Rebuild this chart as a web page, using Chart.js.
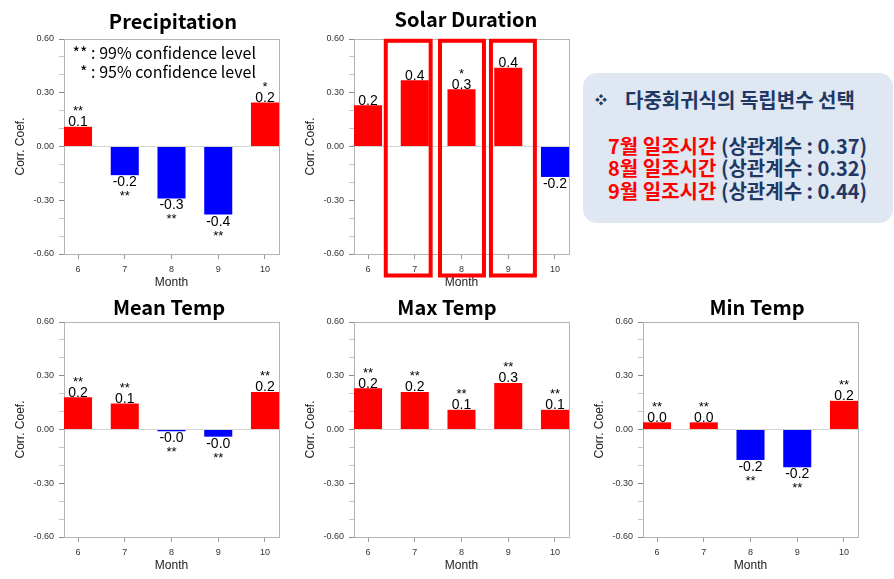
<!DOCTYPE html>
<html><head><meta charset="utf-8">
<script src="https://cdn.jsdelivr.net/npm/chart.js@4/dist/chart.umd.min.js"></script>
<style>
html,body{margin:0;padding:0;background:#fff;}
body{width:894px;height:579px;overflow:hidden;position:relative;font-family:"Liberation Sans",Arial,sans-serif;}
canvas{position:absolute;}
.ttl{position:absolute;font-family:"Noto Sans CJK KR",sans-serif;font-weight:bold;font-size:20px;line-height:20px;color:#000;transform:translateX(-50%);white-space:nowrap;}
.leg{position:absolute;font-family:"Noto Sans CJK KR",sans-serif;font-size:16px;line-height:18.5px;color:#000;white-space:pre;text-align:right;}
.box{position:absolute;left:583px;top:73px;width:310px;height:150px;border-radius:14px;background:#dfe7f3;}
.bx{position:absolute;font-family:"Noto Sans CJK KR",sans-serif;font-weight:bold;font-size:20px;line-height:22.3px;color:#1f3864;white-space:nowrap;}
.red{color:#ff0000;}
</style>
</head><body>
<canvas id="c1" width="295" height="290" style="left:0px;top:0px"></canvas>
<canvas id="c2" width="295" height="290" style="left:290px;top:0px"></canvas>
<canvas id="c3" width="295" height="290" style="left:0px;top:283px"></canvas>
<canvas id="c4" width="295" height="290" style="left:290px;top:283px"></canvas>
<canvas id="c5" width="295" height="290" style="left:579px;top:283px"></canvas>

<div class="ttl" style="left:173px;top:11px">Precipitation</div>
<div class="ttl" style="left:466px;top:9px">Solar Duration</div>
<div class="ttl" style="left:169px;top:297px">Mean Temp</div>
<div class="ttl" style="left:447px;top:297px">Max Temp</div>
<div class="ttl" style="left:757px;top:297px">Min Temp</div>

<div class="leg" style="right:638px;top:43px">** : 99% confidence level
* : 95% confidence level</div>

<div class="box">
  <div class="bx" style="left:12px;top:16px"><span style="font-size:12px;position:relative;top:-3px">❖</span><span style="margin-left:18px">다중회귀식의 독립변수 선택</span></div>
  <div class="bx" style="left:25px;top:62px"><span class="red">7월 일조시간</span> (상관계수 : 0.37)<br><span class="red">8월 일조시간</span> (상관계수 : 0.32)<br><span class="red">9월 일조시간</span> (상관계수 : 0.44)</div>
</div>

<script>
// ---- data ----
const months = [6, 7, 8, 9, 10];
const precipitation = [0.11, -0.16, -0.29, -0.38, 0.245];
const solarDuration = [0.23, 0.37, 0.32, 0.44, -0.17];
const meanTemp = [0.18, 0.145, -0.01, -0.04, 0.21];
const maxTemp = [0.23, 0.21, 0.11, 0.26, 0.11];
const minTemp = [0.04, 0.04, -0.17, -0.21, 0.16];
const precipSig = ['**', '**', '**', '**', '*'];
const solarSig = ['', '', '*', '', ''];
const meanSig = ['**', '**', '**', '**', '**'];
const maxSig = ['**', '**', '**', '**', '**'];
const minSig = ['**', '**', '**', '**', '**'];
const yMin = -0.6, yMax = 0.6;
// highlighted month ranges on the Solar Duration panel (x in month units, y in coef units)
const solarHighlightX = [[6.38, 7.34], [7.54, 8.48], [8.63, 9.57]];
const solarHighlightY = [0.59, -0.72];

// ---- plugins ----
const framePlugin = {
  id: 'frame',
  beforeDatasetsDraw(chart) {
    const a = chart.chartArea, ctx = chart.ctx;
    ctx.save();
    ctx.strokeStyle = '#b4b4b4';
    ctx.lineWidth = 1;
    ctx.strokeRect(Math.round(a.left) + 0.5, Math.round(a.top) + 0.5, Math.round(a.right - a.left), Math.round(a.bottom - a.top));
    ctx.restore();
  }
};
const labelPlugin = {
  id: 'valLabels',
  afterDatasetsDraw(chart, args, opts) {
    const ctx = chart.ctx;
    const meta = chart.getDatasetMeta(0);
    const ds = chart.data.datasets[0];
    ctx.save();
    ctx.fillStyle = '#000';
    ctx.textAlign = 'center';
    ctx.textBaseline = 'alphabetic';
    meta.data.forEach((bar, i) => {
      const v = ds.data[i].y;
      const txt = v.toFixed(1);
      const s = opts.sig[i];
      if (v >= 0) {
        ctx.font = '14px "Liberation Sans", Arial, sans-serif';
        ctx.fillText(txt, bar.x, bar.y - 0.5);
        if (s) { ctx.font = '13px "Liberation Sans", Arial, sans-serif'; ctx.fillText(s, bar.x, bar.y - 11.5); }
      } else {
        ctx.font = '14px "Liberation Sans", Arial, sans-serif';
        ctx.fillText(txt, bar.x, bar.y + 11);
        if (s) { ctx.font = '13px "Liberation Sans", Arial, sans-serif'; ctx.fillText(s, bar.x, bar.y + 25); }
      }
    });
    ctx.restore();
  }
};
const highlightPlugin = {
  id: 'highlight',
  afterDraw(chart) {
    const xs = chart.scales.x, ys = chart.scales.y, ctx = chart.ctx;
    ctx.save();
    ctx.strokeStyle = '#ff0000';
    ctx.lineWidth = 4;
    const t = ys.getPixelForValue(solarHighlightY[0]);
    const b = ys.getPixelForValue(solarHighlightY[1]);
    solarHighlightX.forEach(r => {
      const l = xs.getPixelForValue(r[0]), rr = xs.getPixelForValue(r[1]);
      ctx.strokeRect(l, t, rr - l, b - t);
    });
    ctx.restore();
  }
};

function isMajor(v) { return Math.round(v * 10) % 3 === 0; }

function makeChart(id, values, sig, extra) {
  return new Chart(document.getElementById(id), {
    type: 'bar',
    data: {
      datasets: [{
        data: months.map((m, i) => ({ x: m, y: values[i] })),
        backgroundColor: values.map(v => v >= 0 ? '#ff0000' : '#0000ff'),
        borderWidth: 0,
        barPercentage: 0.6,
        categoryPercentage: 1.0
      }]
    },
    options: {
      responsive: false,
      animation: false,
      devicePixelRatio: 1,
      layout: { padding: { top: 39, right: 16, left: 0, bottom: 0 } },
      plugins: { legend: { display: false }, tooltip: { enabled: false }, title: { display: false }, valLabels: { sig: sig } },
      scales: {
        x: {
          type: 'linear', min: 5.7, max: 10.3, offset: false,
          afterFit(s) { s.height = 36; },
          ticks: { stepSize: 1, includeBounds: false, autoSkip: false, font: { size: 9, family: '"Liberation Sans", Arial' }, color: '#333', padding: 5 },
          grid: { drawOnChartArea: false, tickLength: 5, color: '#999', offset: false },
          border: { color: '#a0a0a0' },
          title: { display: true, text: 'Month', font: { size: 12, family: '"Liberation Sans", Arial' }, color: '#222', padding: { top: 0, bottom: 0 } }
        },
        y: {
          min: yMin, max: yMax,
          afterFit(s) { s.width = 64; },
          ticks: {
            stepSize: 0.1, autoSkip: false, padding: 5,
            font: { size: 9, family: '"Liberation Sans", Arial' }, color: '#333',
            callback(v) { if (!isMajor(v)) return ''; return Math.abs(v) < 1e-9 ? '0.00' : v.toFixed(2); }
          },
          grid: {
            tickLength: 5,
            color(c) { return (c.tick && Math.abs(c.tick.value) < 1e-9) ? '#d4d4d4' : 'rgba(0,0,0,0)'; },
            tickColor(c) { return (c.tick && isMajor(c.tick.value)) ? '#8c8c8c' : '#c4c4c4'; }
          },
          border: { color: '#a0a0a0' },
          title: { display: true, text: 'Corr. Coef.', font: { size: 12, family: '"Liberation Sans", Arial' }, color: '#222', padding: { top: 13, bottom: 0 } }
        }
      }
    },
    plugins: [framePlugin, labelPlugin].concat(extra || [])
  });
}

makeChart('c1', precipitation, precipSig);
makeChart('c2', solarDuration, solarSig, [highlightPlugin]);
makeChart('c3', meanTemp, meanSig);
makeChart('c4', maxTemp, maxSig);
makeChart('c5', minTemp, minSig);
</script>
</body></html>
